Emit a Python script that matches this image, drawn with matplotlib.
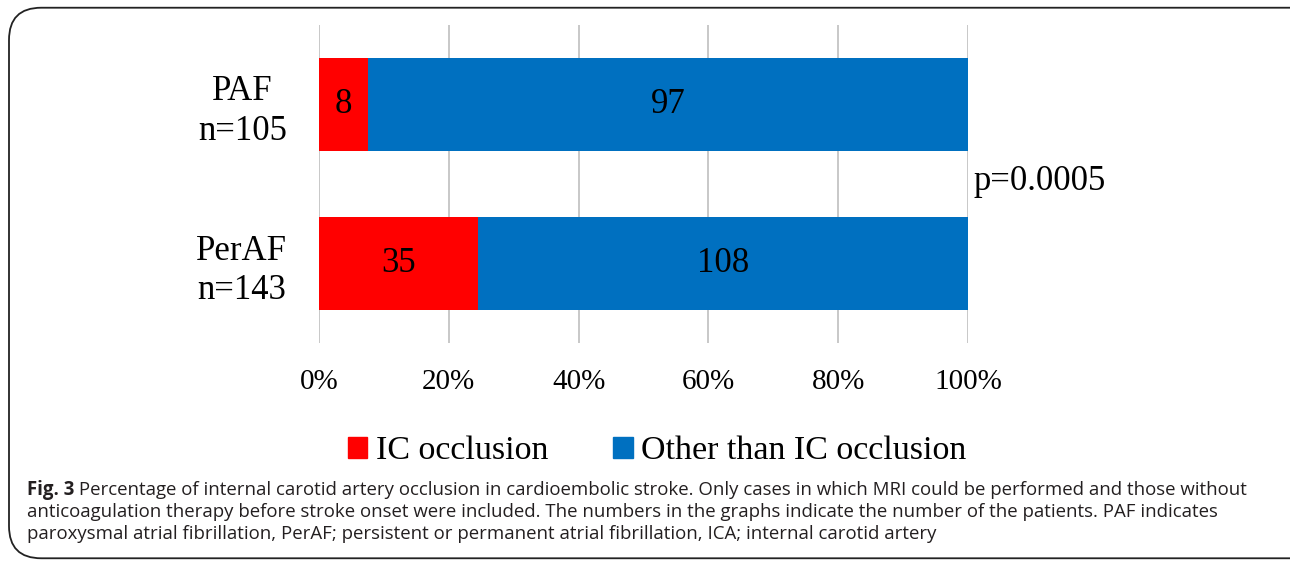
import matplotlib
matplotlib.use("Agg")
import matplotlib.pyplot as plt
from matplotlib.patches import FancyBboxPatch, Patch

W, H = 1290, 563

groups = ["PerAF\nn=143", "PAF\nn=105"]
ic_occlusion = [35, 8]
other = [108, 97]
pct_ticks = [0, 20, 40, 60, 80, 100]
p_text = "p=0.0005"
legend_labels = ["IC occlusion", "Other than IC occlusion"]
caption_bold = "Fig. 3"
caption_lines = [
    " Percentage of internal carotid artery occlusion in cardioembolic stroke. Only cases in which MRI could be performed and those without",
    "anticoagulation therapy before stroke onset were included. The numbers in the graphs indicate the number of the patients. PAF indicates",
    "paroxysmal atrial fibrillation, PerAF; persistent or permanent atrial fibrillation, ICA; internal carotid artery",
]

RED = "#FF0000"
BLUE = "#0070C0"
SERIF = "Liberation Serif"


def fx(px):
    return px / W


def fy(py):
    return 1 - py / H


fig = plt.figure(figsize=(W / 100, H / 100), dpi=100, facecolor="white")

# rounded frame around the figure+caption (right edge runs off the image)
frame = FancyBboxPatch((fx(9) + 0.012, fy(558) + 0.027), fx(1330) - 0.024, fy(8) - fy(558) - 0.054,
                       boxstyle="round,pad=0.012,rounding_size=0.025", transform=fig.transFigure,
                       fill=False, ec="#222222", lw=1.3, mutation_aspect=W / H)
fig.patches.append(frame)

ax = fig.add_axes([fx(319), fy(343), fx(968) - fx(319), fy(25) - fy(343)])
tot = [a + b for a, b in zip(ic_occlusion, other)]
p_ic = [100 * a / t for a, t in zip(ic_occlusion, tot)]
p_ot = [100 * b / t for b, t in zip(other, tot)]
y = list(range(len(groups)))
b1 = ax.barh(y, p_ic, height=0.58, color=RED, zorder=3)
b2 = ax.barh(y, p_ot, left=p_ic, height=0.58, color=BLUE, zorder=3)
ax.bar_label(b1, labels=[str(v) for v in ic_occlusion], label_type="center",
             fontsize=25, family=SERIF, color="black")
ax.bar_label(b2, labels=[str(v) for v in other], label_type="center",
             fontsize=25, family=SERIF, color="black")

ax.set_xlim(0, 100)
ax.set_ylim(-0.5, 1.5)
ax.set_xticks(pct_ticks)
ax.set_xticklabels([f"{t}%" for t in pct_ticks], family=SERIF, fontsize=21)
ax.set_yticks(y)
ax.set_yticklabels(groups, family=SERIF, fontsize=25, multialignment="center", linespacing=1.25)
ax.tick_params(axis="x", length=0, pad=19)
ax.tick_params(axis="y", length=0, pad=23)
ax.grid(axis="x", color="#BFBFBF", lw=1.2, zorder=0)
for s in ax.spines.values():
    s.set_visible(False)

fig.text(fx(974), fy(182), p_text, family=SERIF, fontsize=25, ha="left", va="center")

handles = [Patch(color=RED), Patch(color=BLUE)]
fig.legend(handles, legend_labels, loc="center", bbox_to_anchor=(fx(657), fy(451)), ncol=2,
           frameon=False, prop={"family": SERIF, "size": 24.5}, handlelength=0.58, handleheight=0.58,
           handletextpad=0.25, columnspacing=1.9, borderpad=0)

# caption: bold "Fig. 3" then the rest of line 1 right after it
cap_kw = dict(family="Open Sans", fontsize=13.4, color="#231F20", va="baseline")
bold = fig.text(fx(27), fy(495), caption_bold, fontweight="bold", **cap_kw)
fig.canvas.draw()
bb = bold.get_window_extent()
fig.text(bb.x1 / W, fy(495), caption_lines[0], **cap_kw)
fig.text(fx(27), fy(517), caption_lines[1], **cap_kw)
fig.text(fx(27), fy(539), caption_lines[2], **cap_kw)

fig.savefig("out.png", dpi=100, facecolor="white")
